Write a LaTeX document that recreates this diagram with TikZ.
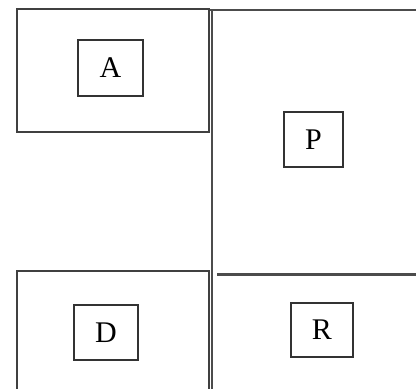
\documentclass[tikz,border=0pt]{standalone}
\usepackage{fontspec}
\setmainfont{Liberation Serif}
\begin{document}
\begin{tikzpicture}[x=1pt,y=-1pt,
  wall/.style={draw=black!75, line width=1.8pt},
  thinwall/.style={draw=black!70, line width=1.3pt},
  heavywall/.style={draw=black!70, line width=3pt},
  label box/.style={draw=black!80, line width=1.2pt, rectangle, inner sep=0pt,
    font=\fontsize{30}{34}\selectfont}]
\useasboundingbox (0,0) rectangle (416,389);
% room outlines
\draw[wall] (17,9) rectangle (209,132);
\draw[thinwall] (210,10) -- (416,10);
\draw[thinwall] (212,10) -- (212,389);
\draw[wall] (209,9) -- (209,132);
\draw[wall] (17,389) -- (17,271) -- (209,271) -- (209,389);
\draw[heavywall] (217,274) -- (416,274);
% labels
\node[label box, minimum width=65pt, minimum height=56pt] (A) at (110.5,68) {A};
\node[label box, minimum width=59pt, minimum height=55pt] (P) at (313.5,139.5) {P};
\node[label box, minimum width=64pt, minimum height=55pt] (D) at (106,332.5) {D};
\node[label box, minimum width=62pt, minimum height=54pt] (R) at (322,330) {R};
\end{tikzpicture}
\end{document}
